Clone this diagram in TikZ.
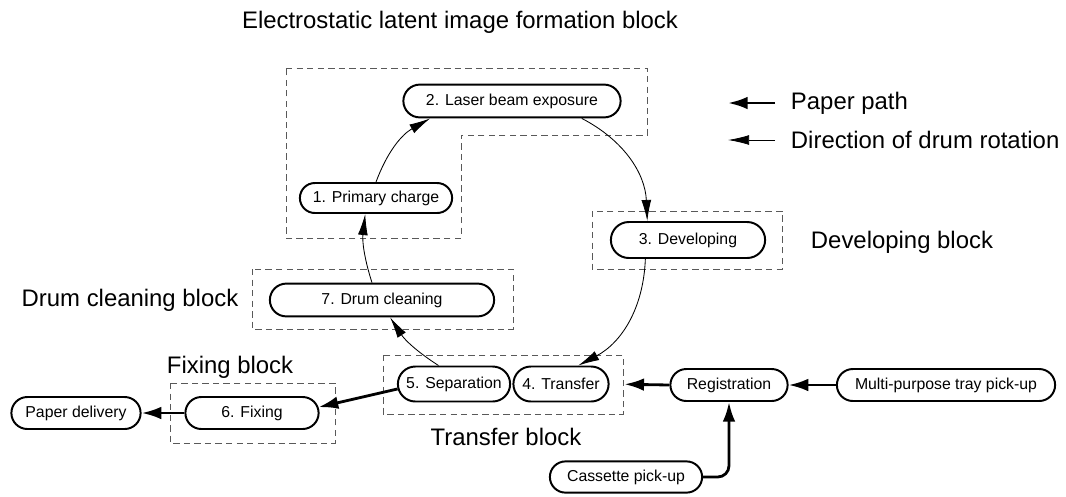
\documentclass[tikz,border=0pt]{standalone}
\usepackage{fontspec}
\setmainfont{Liberation Sans}
\usetikzlibrary{arrows.meta,shapes.misc}

\begin{document}
\begin{tikzpicture}[x=0.025cm,y=-0.025cm,
  stufe/.style={draw,line width=1.4pt,rounded rectangle,inner sep=1pt,minimum height=0.82cm,font=\fontsize{11.25}{13}\selectfont},
  block/.style={draw=black!65,line width=0.6pt,dash pattern=on 4.5pt off 3pt},
  blocktext/.style={font=\fontsize{17}{20}\selectfont},
  papier/.style={line width=2pt,-{Latex[length=14pt,width=9pt]}},
  trommel/.style={line width=0.6pt,-{Latex[length=15pt,width=7pt]}}]
\useasboundingbox (0,0) rectangle (1066,496);
% gestrichelte Bloecke
\draw[block] (286,68) -- (647,68) -- (647,135) -- (461,135) -- (461,238) -- (286,238) -- cycle;
\draw[block] (592,211) rectangle (782,269);
\draw[block] (252,269) rectangle (513,329);
\draw[block] (383,355) rectangle (623,414);
\draw[block] (170,383) rectangle (335,443);
% Beschriftung der Bloecke
\node[blocktext,anchor=base] (tlatent) at (460,28) {Electrostatic latent image formation block};
\node[blocktext,anchor=west] (tdev) at (806,242) {Developing block};
\node[blocktext] (tclean) at (130,300) {Drum cleaning block};
\node[blocktext,anchor=base] (tfix) at (230,373) {Fixing block};
\node[blocktext] (ttrans) at (506,437) {Transfer block};
% Legende
\node[blocktext,anchor=west] (lpaper) at (786,103) {Paper path};
\node[blocktext,anchor=west] (ldrum) at (786,140) {Direction of drum rotation};
\coordinate (pa) at (775,103);
\coordinate (pb) at (728,103);
\coordinate (da) at (775,140);
\coordinate (db) at (728,140);
\draw[papier] (pa) -- (pb);
\draw[trommel] (da) -- (db);
% Prozessschritte
\node[stufe,minimum width=5.5cm] (laser) at (512,101) {2. Laser beam exposure};
\node[stufe,minimum width=3.875cm,minimum height=0.75cm] (prim) at (376,198) {1. Primary charge};
\node[stufe,minimum width=3.925cm,minimum height=0.9cm] (dev) at (688,240) {3. Developing};
\node[stufe,minimum width=5.675cm] (clean) at (382,300) {7. Drum cleaning};
\node[stufe,minimum width=2.875cm,minimum height=0.875cm] (sep) at (454,384) {5. Separation};
\node[stufe,minimum width=2.45cm,minimum height=0.875cm] (trans) at (561,384) {4. Transfer};
\node[stufe,minimum width=3.4cm,minimum height=0.8cm] (fix) at (252,413) {6. Fixing};
\node[stufe,minimum width=3.3cm,minimum height=0.8cm] (deliv) at (76,413) {Paper delivery};
\node[stufe,minimum width=3cm,minimum height=0.8cm] (reg) at (729,385) {Registration};
\node[stufe,minimum width=5.525cm,minimum height=0.8cm] (mp) at (946,385) {Multi-purpose tray pick-up};
\node[stufe,minimum width=3.875cm,minimum height=0.78cm] (cas) at (626,477) {Cassette pick-up};
% Trommeldrehung
\draw[trommel] (prim.north) to[bend left=20] (laser.192);
\draw[trommel] (laser.-14) to[bend left=30] (dev.155);
\draw[trommel] (dev.204) to[bend left=30] (trans.47);
\draw[trommel] (sep.130) to[bend left=12] (clean.-65);
\draw[trommel] (clean.120) to[bend left=12] (prim.236);
% Papierweg
\draw[papier] (mp.west) -- (reg.east);
\draw[papier,shorten >=10.5pt] (reg.west) -- (trans.east);
\draw[papier,rounded corners=8pt] (cas.east) -| (reg.south);
\draw[papier] (sep.185) -- (fix.5);
\draw[papier] (fix.west) -- (deliv.east);
\end{tikzpicture}
\end{document}
